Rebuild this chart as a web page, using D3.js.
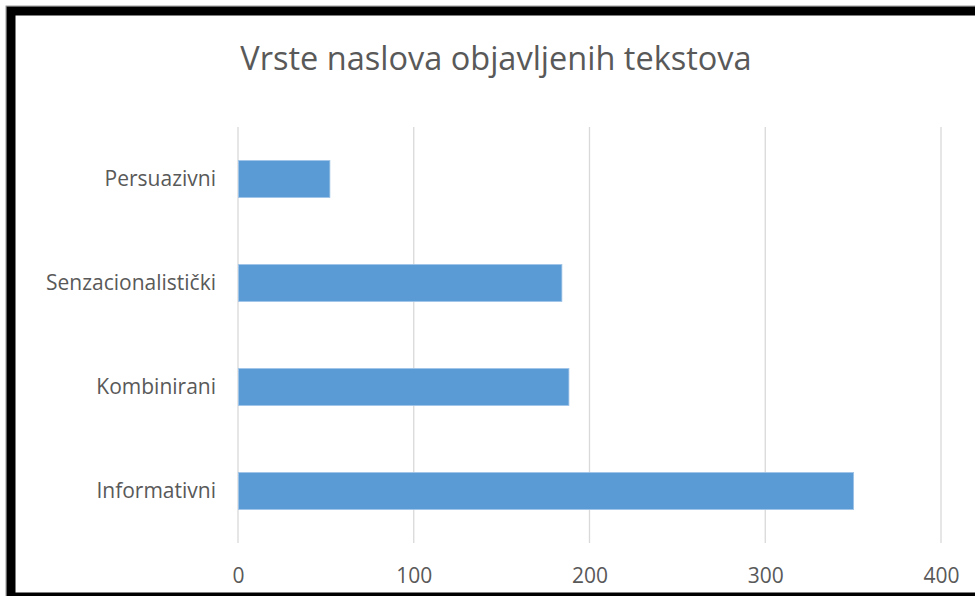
<!DOCTYPE html>
<html><head><meta charset="utf-8">
<script src="https://cdn.jsdelivr.net/npm/d3@7"></script>
<style>html,body{margin:0;padding:0;background:#fff;overflow:hidden}</style>
</head><body>
<script>
const title = "Vrste naslova objavljenih tekstova";
const categories = ["Persuazivni", "Senzacionalistički", "Kombinirani", "Informativni"];
const values = [52, 184, 188, 350];
const xTicks = [0, 100, 200, 300, 400];

const W = 975, H = 596;
const svg = d3.select("body").append("svg").attr("width", W).attr("height", H);
svg.append("rect").attr("width", W).attr("height", H).attr("fill", "#fff");

const mLeft = 238, mRight = 941, mTop = 127, mBottom = 543;
const x = d3.scaleLinear().domain([0, 400]).range([mLeft, mRight]);
const y = d3.scaleBand().domain(categories).range([mTop, mBottom]).paddingInner(0.645).paddingOuter(0.3225);

// gridlines
svg.append("g").selectAll("line").data(xTicks).join("line")
  .attr("x1", d => x(d)).attr("x2", d => x(d))
  .attr("y1", mTop).attr("y2", mBottom)
  .attr("stroke", "#d9d9d9").attr("stroke-width", 1.3);

// bars
svg.append("g").selectAll("rect").data(values).join("rect")
  .attr("x", x(0) + 0.5)
  .attr("y", (d, i) => y(categories[i]))
  .attr("width", d => x(d) - x(0))
  .attr("height", y.bandwidth())
  .attr("fill", "#5B9BD5")
  .attr("stroke", "#9DC3E6").attr("stroke-width", 0.8);

// category labels
const yAxis = d3.axisLeft(y).tickSize(0).tickPadding(0);
const ya = svg.append("g").attr("transform", `translate(216,0)`).call(yAxis);
ya.select(".domain").remove();
ya.selectAll("text").attr("font-family", "Open Sans, sans-serif").attr("font-size", 21).attr("fill", "#595959");

// x tick labels
const xAxis = d3.axisBottom(x).tickValues(xTicks).tickSize(0).tickPadding(0);
const xa = svg.append("g").attr("transform", `translate(0,568)`).call(xAxis);
xa.select(".domain").remove();
xa.selectAll("text").attr("font-family", "Open Sans, sans-serif").attr("font-size", 21).attr("fill", "#595959");

// title
svg.append("text").attr("x", 496).attr("y", 70).attr("text-anchor", "middle")
  .attr("font-family", "Open Sans, sans-serif").attr("font-size", 32.5).attr("fill", "#595959")
  .text(title);

// outer frame
svg.append("rect").attr("x", 6).attr("y", 6).attr("width", W + 20).attr("height", H + 20)
  .attr("fill", "none").attr("stroke", "#999").attr("stroke-width", 1);
svg.append("rect").attr("x", 11).attr("y", 11).attr("width", W + 20).attr("height", 586)
  .attr("fill", "none").attr("stroke", "#000").attr("stroke-width", 9);
</script>
</body></html>
